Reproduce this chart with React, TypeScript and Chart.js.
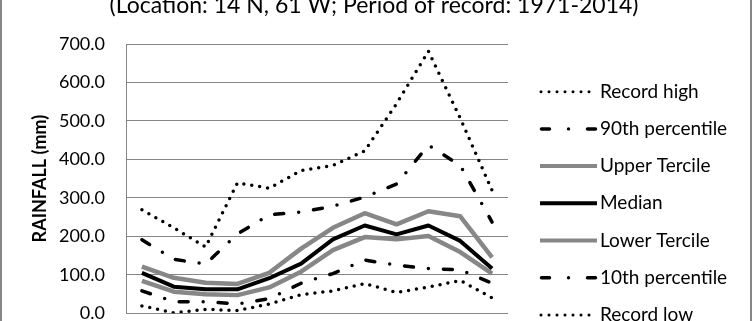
import React, { useEffect, useRef } from "react";
import { Chart, registerables } from "chart.js";

Chart.register(...registerables);

const months = ["Jan", "Feb", "Mar", "Apr", "May", "Jun", "Jul", "Aug", "Sep", "Oct", "Nov", "Dec"];
const recordHigh = [269, 222, 172, 339, 325, 371, 384, 422, 545, 681, 507, 319];
const p90 = [191, 140, 128, 206, 256, 263, 278, 302, 336, 437, 384, 237];
const upperTercile = [121, 92, 79, 76, 105, 168, 222, 260, 231, 265, 252, 145];
const median = [105, 69, 62, 62, 91, 129, 192, 228, 205, 228, 188, 116];
const lowerTercile = [84, 56, 49, 47, 67, 108, 164, 198, 192, 201, 159, 103];
const p10 = [58, 30, 30, 24, 38, 78, 103, 138, 125, 116, 113, 78];
const recordLow = [19, 1, 10, 7, 24, 48, 58, 77, 54, 68, 85, 40];

const seriesNames = ["Record high", "90th percentile", "Upper Tercile", "Median", "Lower Tercile", "10th percentile", "Record low"];
const titleText = "(Location: 14 N, 61 W; Period of record: 1971-2014)";
const yTitle = "RAINFALL (mm)";

const GRAY = "#878787";
const GRID = "#868686";
const FONT = "Lato, 'Open Sans', sans-serif";
const CANVAS_TOP = -12;

type Kind = "dot" | "dashdot" | "solid";

const titlePlugin = {
  id: "customTitle",
  afterDraw(chart: any) {
    const ctx = chart.ctx as CanvasRenderingContext2D;
    ctx.save();
    ctx.fillStyle = "#000";
    ctx.font = `23px ${FONT}`;
    ctx.textAlign = "center";
    ctx.textBaseline = "alphabetic";
    ctx.fillText(titleText, 374, 13 - CANVAS_TOP);
    ctx.restore();
  },
};

const legendPlugin = {
  id: "customLegend",
  afterDraw(chart: any) {
    const ctx = chart.ctx as CanvasRenderingContext2D;
    const kinds: Kind[] = ["dot", "dashdot", "solid", "solid", "solid", "dashdot", "dot"];
    const colors = ["#000", "#000", GRAY, "#000", GRAY, "#000", "#000"];
    ctx.save();
    seriesNames.forEach((name, i) => {
      const y = 91.7 + i * 37.2 - CANVAS_TOP;
      const kind = kinds[i];
      ctx.strokeStyle = colors[i];
      ctx.fillStyle = colors[i];
      if (kind === "dot") {
        for (let k = 0; k < 7; k++) {
          ctx.beginPath();
          ctx.arc(541 + k * 8, y, 1.5, 0, Math.PI * 2);
          ctx.fill();
        }
      } else if (kind === "dashdot") {
        ctx.lineWidth = 3.5;
        ctx.lineCap = "round";
        ctx.beginPath();
        ctx.moveTo(541.5, y);
        ctx.lineTo(549.5, y);
        ctx.moveTo(587.5, y);
        ctx.lineTo(595.5, y);
        ctx.stroke();
        ctx.beginPath();
        ctx.arc(568.5, y, 1.7, 0, Math.PI * 2);
        ctx.fill();
      } else {
        ctx.lineWidth = 4;
        ctx.lineCap = "butt";
        ctx.beginPath();
        ctx.moveTo(540, y);
        ctx.lineTo(597, y);
        ctx.stroke();
      }
      ctx.fillStyle = "#000";
      ctx.font = `19px ${FONT}`;
      ctx.textAlign = "left";
      ctx.textBaseline = "middle";
      ctx.fillText(name, 600, y);
    });
    ctx.restore();
  },
};

export default function App() {
  const ref = useRef<HTMLCanvasElement | null>(null);

  useEffect(() => {
    if (!ref.current) return;
    const dotted = { borderColor: "#000", borderWidth: 3.5, borderDash: [0, 8], borderCapStyle: "round" as const };
    const dashDot = { borderColor: "#000", borderWidth: 3.5, borderDash: [9, 15, 0, 15], borderCapStyle: "round" as const };
    const chart = new Chart(ref.current, {
      type: "line",
      data: {
        labels: months,
        datasets: [
          { label: seriesNames[0], data: recordHigh, ...dotted },
          { label: seriesNames[1], data: p90, ...dashDot },
          { label: seriesNames[2], data: upperTercile, borderColor: GRAY, borderWidth: 4.5 },
          { label: seriesNames[3], data: median, borderColor: "#000", borderWidth: 4, order: -1 },
          { label: seriesNames[4], data: lowerTercile, borderColor: GRAY, borderWidth: 4.5 },
          { label: seriesNames[5], data: p10, ...dashDot },
          { label: seriesNames[6], data: recordLow, ...dotted },
        ],
      },
      options: {
        animation: false,
        responsive: false,
        devicePixelRatio: 1,
        layout: { padding: { left: 0, right: 244, top: 56, bottom: 0 } },
        elements: {
          point: { radius: 0, hoverRadius: 0 },
          line: { tension: 0, fill: false, borderJoinStyle: "round" },
        },
        plugins: {
          legend: { display: false },
          tooltip: { enabled: false },
          title: { display: false },
        },
        scales: {
          x: {
            type: "category",
            offset: true,
            grid: { display: false },
            border: { display: false },
            ticks: { color: "#000", font: { family: FONT, size: 18 } },
            afterFit: (s: any) => {
              s.height = 30;
            },
          },
          y: {
            min: 0,
            max: 700,
            ticks: {
              stepSize: 100,
              color: "#000",
              padding: 21,
              font: { family: FONT, size: 18 },
              callback: (v: any) => Number(v).toFixed(1),
            },
            grid: { color: GRID, lineWidth: 1, drawTicks: false },
            border: { display: true, color: GRID, width: 1 },
            title: {
              display: true,
              text: yTitle,
              color: "#000",
              font: { family: FONT, size: 18, weight: "bold" },
              padding: { top: 29, bottom: 0 },
            },
            afterFit: (s: any) => {
              s.width = 126;
            },
          },
        },
      },
      plugins: [titlePlugin, legendPlugin],
    });
    return () => chart.destroy();
  }, []);

  return (
    <div
      style={{
        position: "fixed",
        left: 0,
        top: 0,
        width: 752,
        height: 321,
        overflow: "hidden",
        background: "#fff",
      }}
    >
      <canvas
        ref={ref}
        width={752}
        height={357}
        style={{ position: "absolute", left: 0, top: CANVAS_TOP, width: 752, height: 357 }}
      />
      <div
        style={{
          position: "absolute",
          left: 0,
          top: -10,
          width: 752,
          height: 400,
          boxSizing: "border-box",
          borderLeft: `2px solid ${GRID}`,
          borderRight: `2px solid ${GRID}`,
          pointerEvents: "none",
        }}
      />
    </div>
  );
}
